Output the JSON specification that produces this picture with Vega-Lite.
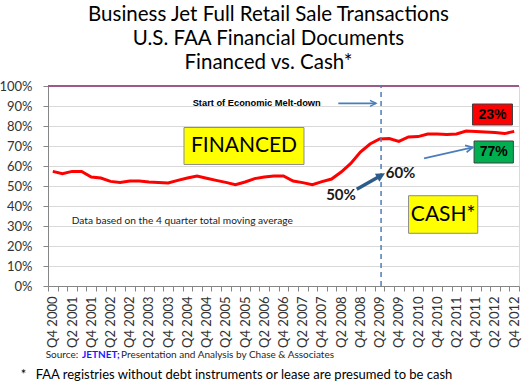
{
  "$schema": "https://vega.github.io/schema/vega-lite/v6.json",
  "autosize": "none",
  "width": 471,
  "height": 200,
  "padding": {"left": 48, "top": 86, "right": 6, "bottom": 97},
  "background": "white",
  "title": {
    "text": ["Business Jet Full Retail Sale Transactions", "U.S. FAA Financial Documents", "Financed vs. Cash*"],
    "font": "Lato", "fontSize": 20.5, "fontWeight": "normal", "lineHeight": 24, "color": "#000000",
    "anchor": "middle", "offset": 7, "dx": -15
  },
  "config": {
    "view": {"stroke": "#d9d9d9"},
    "font": "Lato",
    "axis": {"domainColor": "#868686", "tickColor": "#868686", "labelFont": "Lato", "labelColor": "#333333", "labelFontSize": 13},
    "axisY": {"tickCount": 10, "labelExpr": "datum.value + '%'", "grid": true, "gridColor": "#d9d9d9", "tickSize": 5, "labelPadding": 11, "labelFontSize": 13}
  },
  "datasets": {
    "series": [
      {"quarter": "Q4 2000", "cash": 57.3}, {"quarter": "Q1 2001", "cash": 56.2}, {"quarter": "Q2 2001", "cash": 57.3},
      {"quarter": "Q3 2001", "cash": 57.3}, {"quarter": "Q4 2001", "cash": 54.5}, {"quarter": "Q1 2002", "cash": 54.0},
      {"quarter": "Q2 2002", "cash": 52.3}, {"quarter": "Q3 2002", "cash": 51.7}, {"quarter": "Q4 2002", "cash": 52.5},
      {"quarter": "Q1 2003", "cash": 52.5}, {"quarter": "Q2 2003", "cash": 52.0}, {"quarter": "Q3 2003", "cash": 51.7},
      {"quarter": "Q4 2003", "cash": 51.5}, {"quarter": "Q1 2004", "cash": 52.8}, {"quarter": "Q2 2004", "cash": 54.0},
      {"quarter": "Q3 2004", "cash": 55.0}, {"quarter": "Q4 2004", "cash": 53.9}, {"quarter": "Q1 2005", "cash": 52.8},
      {"quarter": "Q2 2005", "cash": 51.8}, {"quarter": "Q3 2005", "cash": 50.7}, {"quarter": "Q4 2005", "cash": 52.0},
      {"quarter": "Q1 2006", "cash": 53.7}, {"quarter": "Q2 2006", "cash": 54.5}, {"quarter": "Q3 2006", "cash": 55.0},
      {"quarter": "Q4 2006", "cash": 55.0}, {"quarter": "Q1 2007", "cash": 52.5}, {"quarter": "Q2 2007", "cash": 51.7},
      {"quarter": "Q3 2007", "cash": 50.7}, {"quarter": "Q4 2007", "cash": 52.2}, {"quarter": "Q1 2008", "cash": 53.5},
      {"quarter": "Q2 2008", "cash": 57.0}, {"quarter": "Q3 2008", "cash": 61.3}, {"quarter": "Q4 2008", "cash": 67.0},
      {"quarter": "Q1 2009", "cash": 71.0}, {"quarter": "Q2 2009", "cash": 73.5}, {"quarter": "Q3 2009", "cash": 73.7},
      {"quarter": "Q4 2009", "cash": 72.3}, {"quarter": "Q1 2010", "cash": 74.5}, {"quarter": "Q2 2010", "cash": 74.7},
      {"quarter": "Q3 2010", "cash": 76.0}, {"quarter": "Q4 2010", "cash": 76.0}, {"quarter": "Q1 2011", "cash": 75.7},
      {"quarter": "Q2 2011", "cash": 76.0}, {"quarter": "Q3 2011", "cash": 77.5}, {"quarter": "Q4 2011", "cash": 77.2},
      {"quarter": "Q1 2012", "cash": 77.0}, {"quarter": "Q2 2012", "cash": 76.7}, {"quarter": "Q3 2012", "cash": 76.2},
      {"quarter": "Q4 2012", "cash": 77.3}
    ]
  },
  "layer": [
    {
      "layer": [
        {
          "data": {"name": "series"},
          "mark": {"type": "line", "color": "#ff0000", "strokeWidth": 3},
          "encoding": {
            "x": {
              "field": "quarter", "type": "ordinal", "sort": null,
              "scale": {"type": "band", "paddingInner": 0, "paddingOuter": 0},
              "axis": {
                "title": null, "labelAngle": -90, "tickBand": "extent", "tickSize": 5, "labelPadding": 5,
                "labelOverlap": false, "labelBound": false,
                "labelExpr": "test(/^Q[24]/, datum.value) ? datum.value : ''"
              }
            },
            "y": {"field": "cash", "type": "quantitative", "scale": {"domain": [0, 100], "nice": false}, "axis": {"title": null}}
          }
        },
        {
          "data": {"values": [{}]},
          "mark": {"type": "rule", "color": "#9e5a86", "strokeWidth": 2},
          "encoding": {"y": {"datum": 100, "type": "quantitative", "scale": {"domain": [0, 100], "nice": false}, "axis": {"title": null}}}
        },
        {
          "data": {"values": [{}]},
          "mark": {"type": "rule", "color": "#4a7ebb", "strokeWidth": 1.5, "strokeDash": [5, 4]},
          "encoding": {
            "x": {"datum": "Q2 2009", "bandPosition": 0.65},
            "y": {"datum": 0, "type": "quantitative", "scale": {"domain": [0, 100], "nice": false}, "axis": {"title": null}},
            "y2": {"datum": 100}
          }
        }
      ]
    },
    {
      "encoding": {
        "x": {"field": "v", "type": "quantitative", "scale": {"domain": [0, 49], "nice": false, "zero": false}, "axis": null},
        "y": {"field": "y", "type": "quantitative", "scale": {"domain": [0, 100], "nice": false}, "axis": {"title": null}}
      },
      "layer": [
        {
          "data": {"values": [{"v": 20.39, "y": 70, "label": "FINANCED"}]},
          "layer": [
            {"mark": {"type": "point", "shape": "M-1,-0.308H1V0.308H-1Z", "filled": true, "fill": "#ffff00", "stroke": "#8c8c8c", "strokeWidth": 1, "size": 14400, "opacity": 1}},
            {"mark": {"type": "text", "font": "Lato", "fontSize": 21, "color": "#000000", "align": "center", "baseline": "middle"}, "encoding": {"text": {"field": "label"}}}
          ]
        },
        {
          "data": {"values": [{"v": 41.11, "y": 35.75, "label": "CASH*"}]},
          "layer": [
            {"mark": {"type": "point", "shape": "M-1,-0.543H1V0.543H-1Z", "filled": true, "fill": "#ffff00", "stroke": "#8c8c8c", "strokeWidth": 1, "size": 4789, "opacity": 1}},
            {"mark": {"type": "text", "font": "Lato", "fontSize": 21, "color": "#000000", "align": "center", "baseline": "middle"}, "encoding": {"text": {"field": "label"}}}
          ]
        },
        {
          "data": {"values": [{"v": 46.24, "y": 85.75, "label": "23%"}]},
          "layer": [
            {"mark": {"type": "point", "shape": "M-1,-0.525H1V0.525H-1Z", "filled": true, "fill": "#ff0000", "stroke": "#404040", "strokeWidth": 1, "size": 1600, "opacity": 1}},
            {"mark": {"type": "text", "font": "Liberation Sans", "fontWeight": "bold", "fontSize": 14, "color": "#000000", "align": "center", "baseline": "middle"}, "encoding": {"text": {"field": "label"}}}
          ]
        },
        {
          "data": {"values": [{"v": 46.37, "y": 67, "label": "77%"}]},
          "layer": [
            {"mark": {"type": "point", "shape": "M-1,-0.56H1V0.56H-1Z", "filled": true, "fill": "#00b050", "stroke": "#404040", "strokeWidth": 1, "size": 1544, "opacity": 1}},
            {"mark": {"type": "text", "font": "Liberation Sans", "fontWeight": "bold", "fontSize": 14, "color": "#000000", "align": "center", "baseline": "middle"}, "encoding": {"text": {"field": "label"}}}
          ]
        },
        {
          "data": {"values": [{"v": 15.05, "y": 91.35, "label": "Start of Economic Melt-down"}]},
          "mark": {"type": "text", "font": "Liberation Sans", "fontWeight": "bold", "fontSize": 9.3, "color": "#000000", "align": "left", "baseline": "middle"},
          "encoding": {"text": {"field": "label"}}
        },
        {
          "data": {"values": [{"arrow": "melt", "v": 30.2, "y": 91.35}, {"arrow": "melt", "v": 34.12, "y": 91.35}, {"arrow": "cash", "v": 39.12, "y": 63.85}, {"arrow": "cash", "v": 44.18, "y": 69.35}]},
          "mark": {"type": "line", "color": "#4a7ebb", "strokeWidth": 1.7},
          "encoding": {"detail": {"field": "arrow"}}
        },
        {
          "data": {"values": [{"v": 34.12, "y": 91.35}]},
          "mark": {"type": "point", "shape": "M-2,-1L0,0L-2,1", "filled": false, "stroke": "#4a7ebb", "strokeWidth": 1.5, "size": 36, "opacity": 1, "angle": 0}
        },
        {
          "data": {"values": [{"v": 44.18, "y": 69.35}]},
          "mark": {"type": "point", "shape": "M-2,-1L0,0L-2,1", "filled": false, "stroke": "#4a7ebb", "strokeWidth": 1.7, "size": 49, "opacity": 1, "angle": -12.7}
        },
        {
          "data": {"values": [{"v": 32.12, "y": 48.35}, {"v": 34.6, "y": 55.1}]},
          "mark": {"type": "line", "color": "#2e5c8a", "strokeWidth": 3.5}
        },
        {
          "data": {"values": [{"v": 35.06, "y": 56.35}]},
          "mark": {"type": "point", "shape": "M0,0L-2,-1L-2,1Z", "filled": true, "fill": "#2e5c8a", "strokeWidth": 0, "size": 81, "opacity": 1, "angle": -29.5}
        },
        {
          "data": {"values": [{"v": 35.13, "y": 56.35, "label": "60%"}]},
          "mark": {"type": "text", "font": "Lato", "fontWeight": "bold", "fontSize": 15, "color": "#1a1a1a", "align": "left", "baseline": "middle"},
          "encoding": {"text": {"field": "label"}}
        },
        {
          "data": {"values": [{"v": 30.48, "y": 45.5, "label": "50%"}]},
          "mark": {"type": "text", "font": "Lato", "fontWeight": "bold", "fontSize": 15, "color": "#1a1a1a", "align": "center", "baseline": "middle"},
          "encoding": {"text": {"field": "label"}}
        },
        {
          "data": {"values": [{"v": 2.47, "y": 32.65, "label": "Data based on the 4 quarter total moving average"}]},
          "mark": {"type": "text", "font": "Lato", "fontSize": 10.2, "color": "#1a1a1a", "align": "left", "baseline": "middle"},
          "encoding": {"text": {"field": "label"}}
        },
        {
          "data": {"values": [{"v": -0.24, "y": -34.5, "label": "Source:"}, {"v": 7.6, "y": -34.5, "label": "Presentation and Analysis by Chase & Associates"}]},
          "mark": {"type": "text", "font": "Lato", "fontSize": 10, "color": "#262626", "align": "left", "baseline": "middle"},
          "encoding": {"text": {"field": "label"}}
        },
        {
          "data": {"values": [{"v": 3.54, "y": -34.5, "label": "JETNET;"}]},
          "mark": {"type": "text", "font": "Lato", "fontWeight": "bold", "fontSize": 10, "color": "#1a1aff", "align": "left", "baseline": "middle"},
          "encoding": {"text": {"field": "label"}}
        },
        {
          "data": {"values": [{"v": -2.84, "y": -44.5, "label": "*"}, {"v": -1.28, "y": -44.5, "label": "FAA registries without debt instruments or lease are presumed to be cash"}]},
          "mark": {"type": "text", "font": "Lato", "fontSize": 13, "color": "#000000", "align": "left", "baseline": "middle"},
          "encoding": {"text": {"field": "label"}}
        }
      ]
    }
  ],
  "resolve": {"scale": {"x": "independent"}}
}
